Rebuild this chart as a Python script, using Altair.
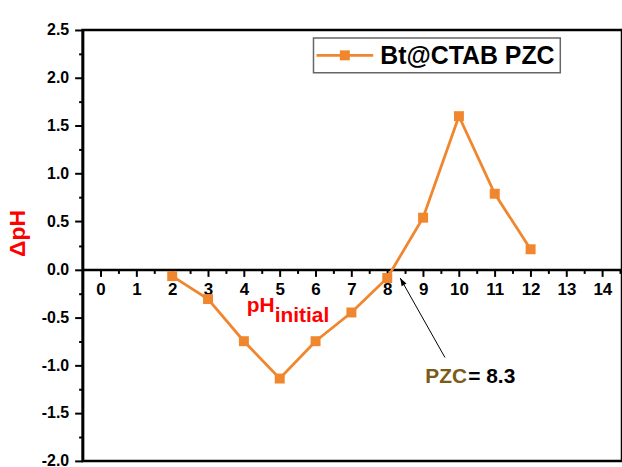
import altair as alt
import pandas as pd

# ---- data ----
ph_initial = [2, 3, 4, 5, 6, 7, 8, 9, 10, 11, 12]
delta_ph = [-0.07, -0.31, -0.75, -1.14, -0.75, -0.45, -0.09, 0.54, 1.60, 0.79, 0.21]

x_tick_values = [i * 0.5 for i in range(0, 30)]          # 0 .. 14.5
y_tick_values = [-2 + i * 0.25 for i in range(0, 19)]     # -2 .. 2.5

series_name = ["Bt@CTAB PZC"]
pzc_label = ["PZC", "= 8.3"]
pzc_label_x = [9.06, 10.26]
pzc_label_y = [-1.19, -1.19]
arrow_x = [9.61, 8.36]
arrow_y = [-0.92, -0.09]
xlabel_parts = ["pH", "initial"]
xlabel_x = [4.08, 4.86]
xlabel_y = [-0.45, -0.545]

ORANGE = "#F0862D"
FONT = "Liberation Sans"

df = pd.DataFrame({"x": ph_initial, "y": delta_ph})
arrow_df = pd.DataFrame({"x": [arrow_x[0]], "y": [arrow_y[0]], "x2": [arrow_x[1]], "y2": [arrow_y[1]]})
tip_df = pd.DataFrame({"x": [arrow_x[1]], "y": [arrow_y[1]]})
pzc_df = pd.DataFrame({"x": pzc_label_x, "y": pzc_label_y, "label": pzc_label})
xl_df = pd.DataFrame({"x": xlabel_x, "y": xlabel_y, "label": xlabel_parts})
leg_df = pd.DataFrame({"label": series_name})

x_axis = alt.Axis(
    title=None,
    orient="bottom",
    offset=-192.4,
    values=x_tick_values,
    labelExpr="datum.value == floor(datum.value) ? format(datum.value, 'd') : ''",
    labelFont=FONT, labelFontSize=17, labelFontWeight="bold", labelColor="black",
    labelPadding=5, labelOverlap=False, labelFlush=False,
    tickSize={"condition": {"test": "datum.value != floor(datum.value)", "value": 4}, "value": 7},
    tickWidth=2, tickColor="black",
    domainWidth=2.5, domainColor="black", grid=False,
)
y_axis = alt.Axis(
    title="ΔpH",
    orient="left",
    values=y_tick_values,
    labelExpr="abs(datum.value*2 - round(datum.value*2)) < 0.01 ? replace(format(datum.value, '.1f'), '\u2212', '-') : ''",
    labelFont=FONT, labelFontSize=16, labelFontWeight="bold", labelColor="black",
    labelPadding=6, labelOverlap=False, labelFlush=False,
    tickSize={"condition": {"test": "abs(datum.value*2 - round(datum.value*2)) > 0.01", "value": 4}, "value": 8},
    tickWidth=2, tickColor="black",
    domainWidth=2.5, domainColor="black", grid=False,
    titleFont=FONT, titleFontSize=23, titleFontWeight="bold", titleColor="#FF0000",
    titleAngle=270, titleAlign="center", titleBaseline="middle",
    titleX=-65, titleY=204,
)

X = alt.X("x:Q", scale=alt.Scale(domain=[-0.5, 14.55], nice=False, zero=False), axis=x_axis)
Y = alt.Y("y:Q", scale=alt.Scale(domain=[-2.0, 2.5], nice=False, zero=False), axis=y_axis)

line = alt.Chart(df).mark_line(color=ORANGE, strokeWidth=2.8).encode(x=X, y=Y)
pts = alt.Chart(df).mark_point(shape="square", filled=True, size=100, color=ORANGE, opacity=1).encode(x=X, y=Y)

arrow = alt.Chart(arrow_df).mark_rule(color="black", strokeWidth=1).encode(
    x=X, y=Y, x2="x2:Q", y2="y2:Q"
)
tip = alt.Chart(tip_df).mark_point(
    shape="M0,0 L0.35,1 L-0.35,1 Z", filled=True, size=256, color="black", opacity=1, angle=330.6
).encode(x=X, y=Y)

pzc_text = alt.Chart(pzc_df).mark_text(
    font=FONT, fontSize=21, fontWeight="bold", align="left", baseline="alphabetic"
).encode(
    x=X, y=Y, text="label:N",
    color=alt.Color("label:N", scale=alt.Scale(domain=pzc_label, range=["#7B5B16", "black"]), legend=None),
)

xl_text = alt.Chart(xl_df).mark_text(
    font=FONT, fontSize=21, fontWeight="bold", align="left", baseline="alphabetic", color="#FF0000"
).encode(x=X, y=Y, text="label:N")

# legend (drawn box)
leg_box = alt.Chart(leg_df).mark_rect(fill="white", stroke="#666666", strokeWidth=1.5).encode(
    x=alt.value(232), x2=alt.value(480), y=alt.value(8), y2=alt.value(43)
)
leg_line = alt.Chart(leg_df).mark_rule(color=ORANGE, strokeWidth=2.8).encode(
    x=alt.value(235), x2=alt.value(292), y=alt.value(25.5)
)
leg_pt = alt.Chart(leg_df).mark_point(shape="square", filled=True, size=100, color=ORANGE, opacity=1).encode(
    x=alt.value(263.5), y=alt.value(25.5)
)
leg_text = alt.Chart(leg_df).mark_text(
    font=FONT, fontSize=25, fontWeight="bold", align="left", baseline="middle", color="black"
).encode(x=alt.value(299), y=alt.value(26.5), text="label:N")

chart = alt.layer(
    line, pts, arrow, tip, pzc_text, xl_text, leg_box, leg_line, leg_pt, leg_text
).properties(
    width=542, height=433,
    autosize=alt.AutoSizeParams(type="none"),
    padding={"left": 83, "top": 29, "right": 0, "bottom": 5},
    background="white",
).configure_view(stroke="black", strokeWidth=2.5)

chart.save("out.html", embed_options={"renderer": "svg", "actions": False})
